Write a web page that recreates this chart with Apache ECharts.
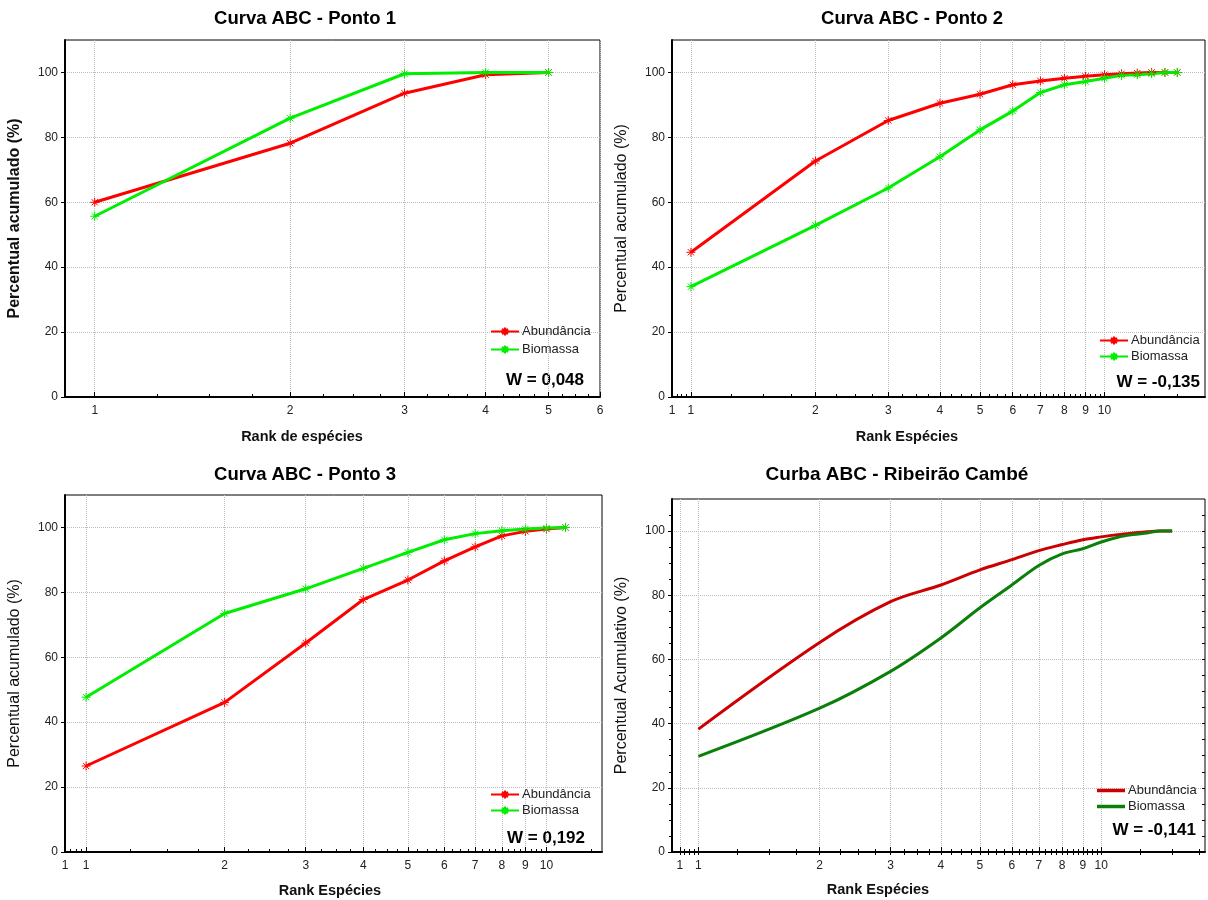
<!DOCTYPE html>
<html>
<head>
<meta charset="utf-8">
<script src="https://cdn.jsdelivr.net/npm/echarts@6/dist/echarts.min.js"></script>
<style>html,body{margin:0;padding:0;background:#fff}#c{width:1208px;height:900px}</style>
</head>
<body>
<div id="c"></div>
<script>
// ---------- DATA ----------
const rank1 = [1, 2, 3, 4, 5];
const p1Abund = [60.0, 78.2, 93.6, 99.3, 100];
const p1Biom  = [55.7, 85.9, 99.6, 100, 100];

const rank2 = [1, 2, 3, 4, 5, 6, 7, 8, 9, 10, 11, 12, 13, 14, 15];
const p2Abund = [44.6, 72.7, 85.2, 90.5, 93.3, 96.2, 97.4, 98.2, 98.8, 99.3, 99.6, 99.8, 100, 100, 100];
const p2Biom  = [34.0, 52.9, 64.4, 74.0, 82.3, 88.1, 93.8, 96.2, 97.2, 98.2, 99.1, 99.3, 99.6, 100, 100];

const rank3 = [1, 2, 3, 4, 5, 6, 7, 8, 9, 10, 11];
const p3Abund = [26.5, 46.1, 64.4, 77.8, 83.8, 89.7, 94.0, 97.4, 98.8, 99.5, 100];
const p3Biom  = [47.7, 73.5, 81.1, 87.4, 92.3, 96.2, 98.1, 99.0, 99.5, 99.8, 100];

const rank4 = [1, 2, 3, 4, 5, 6, 7, 8, 9, 10, 11, 12, 13, 14, 15];
const p4Abund = [38.3, 65.3, 78.0, 83.2, 87.9, 91.1, 93.9, 95.8, 97.3, 98.2, 98.9, 99.4, 99.8, 100, 100];
const p4Biom  = [29.8, 44.8, 56.3, 66.7, 76.1, 83.2, 89.3, 92.9, 94.5, 96.6, 98.1, 98.9, 99.4, 100, 100];

const titles = ['Curva ABC - Ponto 1', 'Curva ABC - Ponto 2', 'Curva ABC - Ponto 3', 'Curba ABC - Ribeirão Cambé'];
const yNames = ['Percentual acumulado (%)', 'Percentual acumulado (%)', 'Percentual acumulado (%)', 'Percentual Acumulativo (%)'];
const xNames = ['Rank de espécies', 'Rank Espécies', 'Rank Espécies', 'Rank Espécies'];
const wTexts = ['W = 0,048', 'W = -0,135', 'W = 0,192', 'W = -0,141'];
const seriesNames = ['Abundância', 'Biomassa'];

const xTicks1 = [1, 2, 3, 4, 5, 6];
const xTicksLog = [0.9, 1, 2, 3, 4, 5, 6, 7, 8, 9, 10];
const yTicks = [0, 20, 40, 60, 80, 100];

// ---------- LAYOUT ----------
const grids = [
  {left: 65,  top: 40,  width: 535, height: 357},
  {left: 672, top: 40,  width: 533, height: 357},
  {left: 65,  top: 495, width: 537, height: 357},
  {left: 672, top: 499, width: 533, height: 353}
];
const xRanges = [[0.9, 6], [0.9, 17.5], [0.9, 13.2], [0.86, 18.1]];

function minorTicks(lo, hi, small) {
  const out = [];
  if (small) for (const v of [0.925, 0.95, 0.975]) if (v > lo) out.push(v);
  for (let i = 1; i < 10; i++) for (const f of [0.25, 0.5, 0.75]) if (i + f < hi) out.push(i + f);
  for (const v of [12.5, 15, 17.5]) if (v < hi) out.push(v);
  return out;
}

const FONT = '"Liberation Sans", Arial, sans-serif';
const asterisk = 'path://M5 0L5 10M0 5L10 5M1.5 1.5L8.5 8.5M8.5 1.5L1.5 8.5';

const xAxes = [], yAxes = [], series = [], legends = [], graphics = [], titleArr = [];

const panels = [
  {rank: rank1, a: p1Abund, b: p1Biom, cA: '#ff0000', cB: '#00ee00', sym: true, smooth: false},
  {rank: rank2, a: p2Abund, b: p2Biom, cA: '#ff0000', cB: '#00ee00', sym: true, smooth: false},
  {rank: rank3, a: p3Abund, b: p3Biom, cA: '#ff0000', cB: '#00ee00', sym: true, smooth: false},
  {rank: rank4, a: p4Abund, b: p4Biom, cA: '#cc0000', cB: '#0a800a', sym: false, smooth: 0.35}
];

const titleCenters = [[305, 9, 18.5], [912, 9, 18.5], [305, 465, 18.5], [897, 465, 19]];
const xNamePos = [[302, 437], [907, 437], [330, 891], [878, 890]];
const wPos = [[584, 380], [1200, 382], [585, 838], [1196, 830]];
const legendPos = [[490, 325, 5], [1099, 334, 3], [490, 788, 3], [1097, 784, 3]];

panels.forEach((p, i) => {
  const majors = i === 0 ? xTicks1 : xTicksLog;
  const [lo, hi] = xRanges[i];
  xAxes.push({
    type: 'log', logBase: 10, gridIndex: i, min: lo, max: hi, position: 'bottom',
    axisLine: {show: true, onZero: false, lineStyle: {color: '#000', width: 2}},
    axisTick: {show: true, inside: true, length: 5, customValues: majors, lineStyle: {color: '#000', width: 1}},
    axisLabel: {show: true, customValues: majors, margin: 8, color: '#222', fontSize: 12, fontFamily: FONT,
      formatter: v => String(Math.round(v))},
    splitLine: {show: true, lineStyle: {color: '#bdbdbd', type: 'dotted', width: 1}}
  });
  xAxes.push({
    type: 'log', logBase: 10, gridIndex: i, min: lo, max: hi, position: 'bottom',
    axisLine: {show: false},
    axisTick: {show: true, inside: true, length: 3, customValues: minorTicks(lo, hi, i !== 0), lineStyle: {color: '#000', width: 1}},
    axisLabel: {show: false}, splitLine: {show: false}
  });
  yAxes.push({
    type: 'value', gridIndex: i, min: 0, max: 110,
    name: yNames[i], nameLocation: 'middle', nameGap: 42, nameRotate: 90,
    nameTextStyle: {fontFamily: FONT, fontSize: 16, fontWeight: i === 0 ? 'bold' : 'normal', color: '#111'},
    axisLine: {show: true, lineStyle: {color: '#000', width: 2}},
    axisTick: {show: true, inside: false, length: 4, customValues: yTicks, lineStyle: {color: '#000'}},
    axisLabel: {customValues: yTicks, margin: 7, color: '#222', fontSize: 12, fontFamily: FONT},
    splitLine: {show: true, lineStyle: {color: '#bdbdbd', type: 'dotted', width: 1}}
  });
  const xIdx = xAxes.length - 2, yIdx = yAxes.length - 1;
  const mk = (name, vals, color) => ({
    name: name + '|' + i, type: 'line', xAxisIndex: xIdx, yAxisIndex: yIdx,
    data: p.rank.map((r, k) => [r, vals[k]]),
    smooth: p.smooth,
    showSymbol: p.sym, symbol: p.sym ? asterisk : 'none', symbolSize: 9,
    itemStyle: {color: p.sym ? 'none' : color, borderColor: color, borderWidth: 1},
    lineStyle: {color: color, width: 3},
    emphasis: {disabled: true}, animation: false
  });
  series.push(mk(seriesNames[0], p.a, p.cA));
  series.push(mk(seriesNames[1], p.b, p.cB));
  const leg = {
    left: legendPos[i][0], top: legendPos[i][1], orient: 'vertical', itemGap: legendPos[i][2],
    itemWidth: 28, itemHeight: 10, selectedMode: false, padding: 0,
    data: seriesNames.map(n => n + '|' + i),
    formatter: n => n.split('|')[0],
    textStyle: {fontFamily: FONT, fontSize: 13, color: '#222', padding: [0, 0, 0, -2]}
  };
  if (!p.sym) { leg.icon = 'rect'; leg.itemHeight = 3.5; leg.itemStyle = {borderWidth: 0}; }
  legends.push(leg);
  titleArr.push({
    text: titles[i], left: titleCenters[i][0], top: titleCenters[i][1], textAlign: 'center', padding: 0,
    textStyle: {fontFamily: FONT, fontSize: titleCenters[i][2], fontWeight: 'bold', color: '#000'}
  });
  graphics.push({
    type: 'text', x: xNamePos[i][0], y: xNamePos[i][1],
    style: {text: xNames[i], font: 'bold 14.5px ' + FONT, fill: '#111', align: 'center', verticalAlign: 'middle'}
  });
  graphics.push({
    type: 'text', x: wPos[i][0], y: wPos[i][1],
    style: {text: wTexts[i], font: 'bold 17px ' + FONT, fill: '#000', align: 'right', verticalAlign: 'middle'}
  });
});

// panel 4 extras: minor y ticks, top ticks, right ticks
const minorY = [];
for (let v = 5; v < 110; v += 5) minorY.push(v);
yAxes.push({
  type: 'value', gridIndex: 3, min: 0, max: 110, position: 'left',
  axisLine: {show: false}, axisLabel: {show: false}, splitLine: {show: false},
  axisTick: {show: true, length: 3, customValues: minorY, lineStyle: {color: '#000'}}
});
yAxes.push({
  type: 'value', gridIndex: 3, min: 0, max: 110, position: 'right',
  axisLine: {show: false}, axisLabel: {show: false}, splitLine: {show: false},
  axisTick: {show: true, inside: true, length: 3, customValues: minorY, lineStyle: {color: '#000'}}
});
xAxes.push({
  type: 'log', logBase: 10, gridIndex: 3, min: xRanges[3][0], max: xRanges[3][1], position: 'top',
  axisLine: {show: false}, axisLabel: {show: false}, splitLine: {show: false},
  axisTick: {show: true, inside: true, length: 3, customValues: xTicksLog.concat(minorTicks(xRanges[3][0], xRanges[3][1], true)), lineStyle: {color: '#000'}}
});

const option = {
  animation: false,
  backgroundColor: '#fff',
  title: titleArr,
  grid: grids.map(g => Object.assign({show: true, borderColor: '#000', borderWidth: 1, backgroundColor: '#fff'}, g)),
  xAxis: xAxes,
  yAxis: yAxes,
  legend: legends,
  series: series,
  graphic: graphics
};
const chart = echarts.init(document.getElementById('c'), null, {renderer: 'canvas'});
chart.setOption(option);
</script>
</body>
</html>
